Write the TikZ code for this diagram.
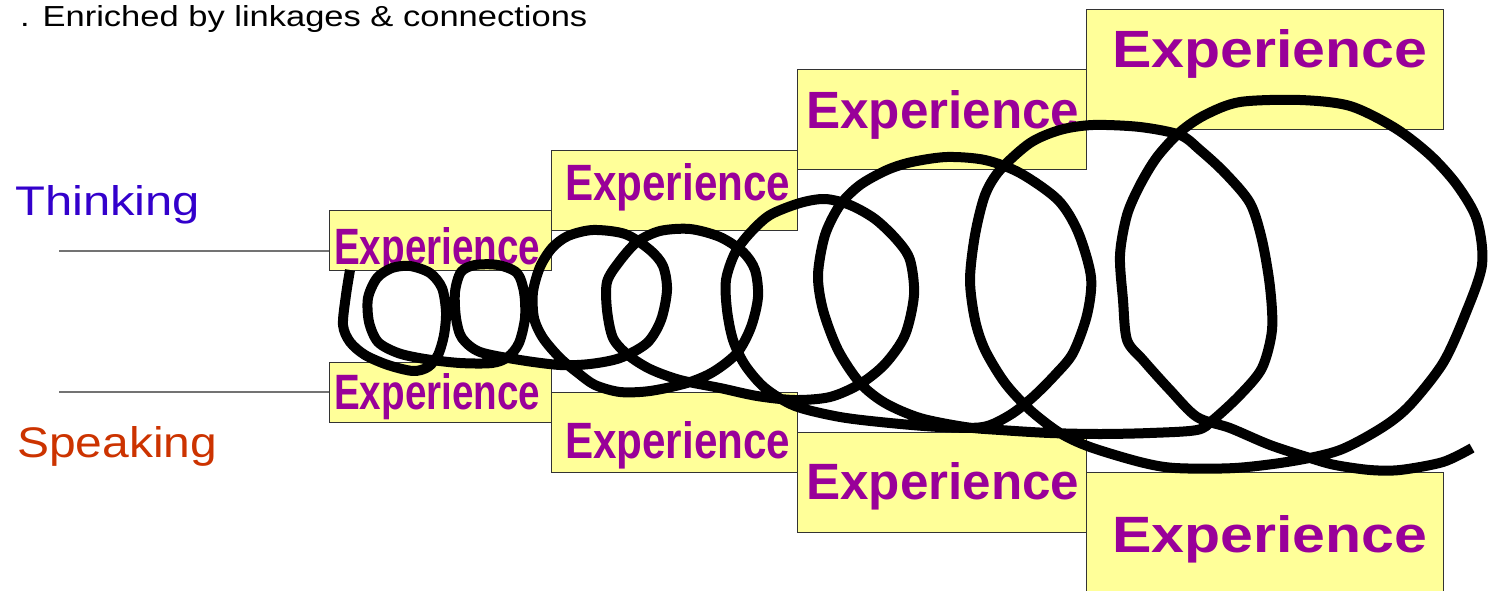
\documentclass[tikz,border=0pt]{standalone}
\usepackage{fontspec}
\setmainfont{Liberation Sans}
\definecolor{boxfill}{HTML}{FFFF99}
\definecolor{expcol}{HTML}{990099}
\definecolor{thinkc}{HTML}{3300CC}
\definecolor{speakc}{HTML}{CC3300}
\begin{document}
\begin{tikzpicture}[x=1pt,y=-1pt,
  ebox/.style={draw=black!80, line width=1.2pt, fill=boxfill, inner sep=0pt, anchor=north west},
  etext/.style={text=expcol, font=\bfseries, inner sep=0pt, anchor=base west},
  guide/.style={draw=black!55, line width=1.8pt},
  coil/.style={line width=10pt, line join=round, line cap=butt}]
\useasboundingbox (0,0) rectangle (1493,591);

% header
\node[inner sep=0pt, anchor=base west] (hdr) at (20,27) {\resizebox{567pt}{21pt}{. Enriched by linkages \& connections}};

% side labels
\node[inner sep=0pt, anchor=base west, text=thinkc] (think) at (15,215) {\resizebox{185pt}{30pt}{Thinking}};
\node[inner sep=0pt, anchor=base west, text=speakc] (speak) at (17,457) {\resizebox{200pt}{31pt}{Speaking}};

% boxes
\node[ebox, minimum width=222pt, minimum height=60pt] (b1t) at (329,210) {};
\node[ebox, minimum width=222pt, minimum height=60pt] (b1b) at (329,362) {};
\node[ebox, minimum width=246pt, minimum height=80pt] (b2t) at (551,150) {};
\node[ebox, minimum width=246pt, minimum height=80pt] (b2b) at (551,392) {};
\node[ebox, minimum width=289pt, minimum height=100pt] (b3t) at (797,69) {};
\node[ebox, minimum width=289pt, minimum height=100pt] (b3b) at (797,432) {};
\node[ebox, minimum width=357pt, minimum height=120pt] (b4t) at (1086,9) {};
\node[ebox, minimum width=357pt, minimum height=130pt] (b4b) at (1086,472) {};

% texts
\node[etext] (e1t) at (334,264) {\resizebox{206pt}{37pt}{Experience}};
\node[etext] (e1b) at (334,409) {\resizebox{206pt}{36pt}{Experience}};
\node[etext] (e2t) at (565,200) {\resizebox{225pt}{37pt}{Experience}};
\node[etext] (e2b) at (565,458) {\resizebox{225pt}{37pt}{Experience}};
\node[etext] (e3t) at (806,129) {\resizebox{273pt}{38pt}{Experience}};
\node[etext] (e3b) at (806,499) {\resizebox{273pt}{37pt}{Experience}};
\node[etext] (e4t) at (1112,68) {\resizebox{315pt}{38pt}{Experience}};
\node[etext] (e4b) at (1112,552) {\resizebox{315pt}{37pt}{Experience}};

% guide lines
\coordinate (tl) at (59,251);
\coordinate (sl) at (59,392);
\draw[guide] (tl) -- (b1t.west |- tl);
\draw[guide] (sl) -- (b1b.west |- sl);

% coil
\draw[coil] plot[smooth, tension=0.5] coordinates {
(350,270) (346,295) (343,325) (350,342) (365,355) (388,365) (413,371)
(428,367) (438,355) (444,335) (446,312) (442,288) (430,273) (410,266)
(392,268) (377,278) (368,298) (369,322) (378,342) (398,353) (425,359)
(460,363) (492,363) (508,357) (519,343) (525,318) (524,292) (517,273)
(498,265) (475,265) (461,272) (455,292) (456,318) (462,338) (480,352)
(520,360) (560,365) (590,364) (620,358) (647,343) (661,320) (667,290)
(663,266) (650,250) (625,234) (593,230) (568,236) (552,248) (540,267)
(533,292) (534,318) (543,338) (560,358) (578,373) (595,385) (620,392)
(650,391) (687,383) (713,372) (737,353) (751,327) (758,297) (755,270)
(743,252) (720,237) (690,229) (660,231) (637,242) (619,262) (607,282)
(607,310) (613,338) (628,355) (650,369) (680,380) (720,388) (757,396)
(795,400) (830,397) (860,384) (885,364) (905,335) (914,295) (910,260)
(897,240) (875,219) (850,205) (825,199) (800,203) (770,215) (750,233)
(735,253) (726,280) (727,310) (733,340) (745,365) (765,388) (795,406)
(840,417) (890,423) (940,427) (983,427) (1010,415) (1033,397) (1055,375)
(1073,353) (1087,315) (1091,277) (1078,232) (1058,200) (1020,173) (985,160)
(947,157) (912,162) (887,170) (860,185) (840,205) (825,235) (818,275)
(823,310) (838,350) (860,383) (885,403) (920,418) (965,427) (1000,430)
(1050,433) (1100,434) (1150,433) (1197,430) (1213,420) (1240,395) (1262,368)
(1272,330) (1270,287) (1262,240) (1250,203) (1225,173) (1200,150) (1180,135)
(1140,127) (1093,125) (1060,130) (1030,143) (1000,170) (985,195) (975,235)
(970,280) (975,320) (985,350) (1005,383) (1030,410) (1060,433) (1090,447)
(1140,462) (1175,468) (1235,468) (1293,461) (1340,450) (1383,427) (1410,405)
(1443,363) (1465,315) (1482,265) (1477,220) (1457,185) (1430,155) (1395,128)
(1350,106) (1300,100) (1240,102) (1205,115) (1180,132) (1157,157) (1140,185)
(1127,215) (1120,255) (1123,300) (1127,340) (1143,360) (1170,390) (1197,417)
(1230,428) (1270,445) (1310,458) (1335,465) (1370,470) (1400,470) (1443,462)
(1472,448)};
\end{tikzpicture}
\end{document}
